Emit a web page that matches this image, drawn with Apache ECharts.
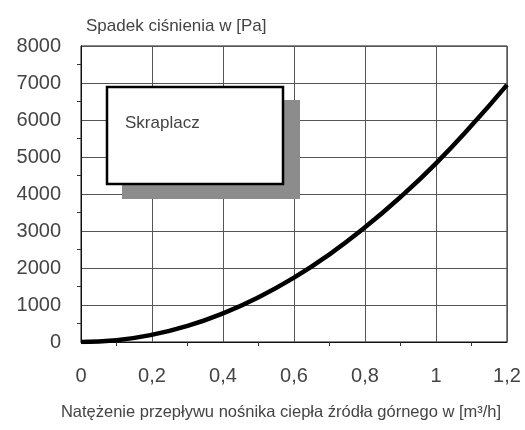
<!DOCTYPE html>
<html>
<head>
<meta charset="utf-8">
<script src="https://cdn.jsdelivr.net/npm/echarts@6/dist/echarts.min.js"></script>
<style>
  html, body { margin: 0; padding: 0; background: #fff; }
  #chart { width: 525px; height: 430px; }
</style>
</head>
<body>
<div id="chart"></div>
<script>
// przepływ [m3/h] i spadek ciśnienia [Pa]
const flow = [0, 0.1, 0.2, 0.3, 0.4, 0.5, 0.6, 0.7, 0.8, 0.9, 1.0, 1.1, 1.2]
const pressureDrop = [0, 50, 195, 435, 775, 1210, 1740, 2370, 3100, 3920, 4830, 5850, 6950]
const xTicks = [0, 0.2, 0.4, 0.6, 0.8, 1, 1.2]
const yTicks = [0, 1000, 2000, 3000, 4000, 5000, 6000, 7000, 8000]
const boxLabel = 'Skraplacz'

const font = '"Liberation Sans", Arial, sans-serif'
const textColor = '#444'

const chart = echarts.init(document.getElementById('chart'))

chart.setOption({
  animation: false,
  grid: {
    left: 81,
    right: 18,
    top: 46,
    bottom: 88,
    show: true,
    borderColor: '#111',
    borderWidth: 1
  },
  xAxis: {
    type: 'value',
    min: xTicks[0],
    max: xTicks[xTicks.length - 1],
    interval: 0.2,
    name: 'Natężenie przepływu nośnika ciepła źródła górnego w [m³/h]',
    nameLocation: 'middle',
    nameGap: 62,
    nameTextStyle: { fontFamily: font, fontSize: 16.5, color: textColor, padding: [0, 26, 0, 0] },
    axisLine: { lineStyle: { color: '#111' } },
    axisTick: { show: false },
    minorTick: { show: true, splitNumber: 2, length: 4, lineStyle: { color: '#333' } },
    axisLabel: {
      margin: 24,
      fontFamily: font,
      fontSize: 20,
      color: textColor,
      formatter: v => String(+v.toFixed(1)).replace('.', ',')
    },
    splitLine: { lineStyle: { color: '#555', width: 1 } }
  },
  yAxis: {
    type: 'value',
    min: yTicks[0],
    max: yTicks[yTicks.length - 1],
    interval: 1000,
    name: 'Spadek ciśnienia w [Pa]',
    nameLocation: 'end',
    nameGap: 11,
    nameTextStyle: { fontFamily: font, fontSize: 17, color: textColor, align: 'left', padding: [0, 0, 0, 5] },
    axisLine: { show: true, lineStyle: { color: '#111' } },
    axisTick: { show: false },
    minorTick: { show: true, splitNumber: 2, length: 4, lineStyle: { color: '#333' } },
    axisLabel: { margin: 20, fontFamily: font, fontSize: 20, color: textColor, formatter: v => String(v) },
    splitLine: { lineStyle: { color: '#555', width: 1 } }
  },
  series: [{
    type: 'line',
    data: flow.map((x, i) => [x, pressureDrop[i]]),
    smooth: true,
    showSymbol: false,
    lineStyle: { color: '#000', width: 4.5 },
    z: 3
  }],
  graphic: [
    {
      type: 'rect',
      shape: { x: 122, y: 100, width: 178, height: 99 },
      style: { fill: '#8c8c8c' },
      z: 10
    },
    {
      type: 'rect',
      shape: { x: 107, y: 87, width: 176, height: 97 },
      style: { fill: '#fff', stroke: '#000', lineWidth: 2.5 },
      z: 11
    },
    {
      type: 'text',
      x: 125,
      y: 123,
      style: {
        text: boxLabel,
        fontFamily: font,
        fontSize: 17,
        fill: textColor,
        verticalAlign: 'middle'
      },
      z: 12
    }
  ]
})
</script>
</body>
</html>
